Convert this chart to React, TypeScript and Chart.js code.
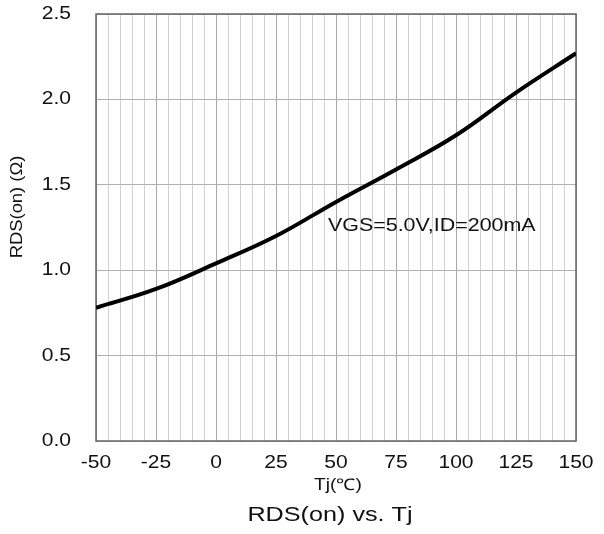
import React, { useEffect, useRef } from "react";
import { Chart, registerables } from "chart.js";

Chart.register(...registerables);

const temperatures = [-50, -25, 0, 25, 50, 75, 100, 125, 150];
const rdsOn = [0.78, 0.89, 1.04, 1.2, 1.4, 1.59, 1.79, 2.04, 2.27];
const xTickLabels = [-50, -25, 0, 25, 50, 75, 100, 125, 150];
const yTickLabels = ["0.0", "0.5", "1.0", "1.5", "2.0", "2.5"];
const chartTitle = "RDS(on) vs. Tj";
const xTitle = "Tj(℃)";
const yTitle = "RDS(on) (Ω)";
const annotation = "VGS=5.0V,ID=200mA";

const FONT = '"Liberation Sans", Arial, sans-serif';

function drawText(
  ctx: CanvasRenderingContext2D,
  text: string,
  x: number,
  y: number,
  size: number,
  align: CanvasTextAlign,
  stretch: number,
  rotate = 0
) {
  ctx.save();
  ctx.translate(x, y);
  if (rotate) ctx.rotate(rotate);
  ctx.scale(stretch, 1);
  ctx.font = `${size}px ${FONT}`;
  ctx.fillStyle = "#111";
  ctx.textAlign = align;
  ctx.textBaseline = "middle";
  ctx.fillText(text, 0, 0);
  ctx.restore();
}

const textPlugin = {
  id: "textPlugin",
  beforeDatasetsDraw(chart: any) {
    const { ctx, chartArea } = chart;
    ctx.save();
    ctx.strokeStyle = "#666";
    ctx.lineWidth = 1.5;
    ctx.strokeRect(chartArea.left, chartArea.top, chartArea.right - chartArea.left, chartArea.bottom - chartArea.top);
    ctx.restore();
  },
  afterDraw(chart: any) {
    const { ctx } = chart;
    const xs = chart.scales.x;
    const ys = chart.scales.y;
    yTickLabels.forEach((t) => {
      const y = ys.getPixelForValue(parseFloat(t));
      drawText(ctx, t, 71, y, 18, "right", 1.17);
    });
    xTickLabels.forEach((v) => {
      const x = xs.getPixelForValue(v);
      drawText(ctx, String(v), x, 463, 18, "center", 1.17);
    });
    drawText(ctx, xTitle, 338, 486, 16, "center", 1.2);
    drawText(ctx, chartTitle, 330, 515, 21, "center", 1.2);
    drawText(ctx, yTitle, 18, 207, 16, "center", 1.15, -Math.PI / 2);
    drawText(ctx, annotation, 328, 226, 18, "left", 1.19);
  },
};

export default function App() {
  const ref = useRef<HTMLCanvasElement | null>(null);
  useEffect(() => {
    if (!ref.current) return;
    const chart = new Chart(ref.current, {
      type: "line",
      data: {
        datasets: [
          {
            data: temperatures.map((t, i) => ({ x: t, y: rdsOn[i] })),
            borderColor: "#000",
            borderWidth: 4,
            pointRadius: 0,
            tension: 0.4,
            fill: false,
          },
        ],
      },
      options: {
        responsive: false,
        animation: false,
        layout: { padding: { left: 0, right: 28, top: 14, bottom: 0 } },
        plugins: { legend: { display: false }, tooltip: { enabled: false }, title: { display: false } },
        scales: {
          x: {
            type: "linear",
            min: -50,
            max: 150,
            ticks: { display: false, stepSize: 5, autoSkip: false },
            grid: {
              drawTicks: false,
              color: (c: any) => (c.tick && c.tick.value % 25 === 0 ? "#a8a8a8" : "#d2d2d2"),
              lineWidth: 1,
            },
            border: { display: false },
            afterFit: (s: any) => {
              s.height = 93;
            },
          },
          y: {
            type: "linear",
            min: 0,
            max: 2.5,
            ticks: { display: false, stepSize: 0.5 },
            grid: { drawTicks: false, color: "#b0b0b0", lineWidth: 1 },
            border: { display: false },
            afterFit: (s: any) => {
              s.width = 96;
            },
          },
        },
      },
      plugins: [textPlugin],
    } as any);
    return () => chart.destroy();
  }, []);
  return (
    <div style={{ position: "absolute", left: 0, top: 0, width: 604, height: 534, background: "#fff" }}>
      <canvas ref={ref} width={604} height={534} />
    </div>
  );
}
